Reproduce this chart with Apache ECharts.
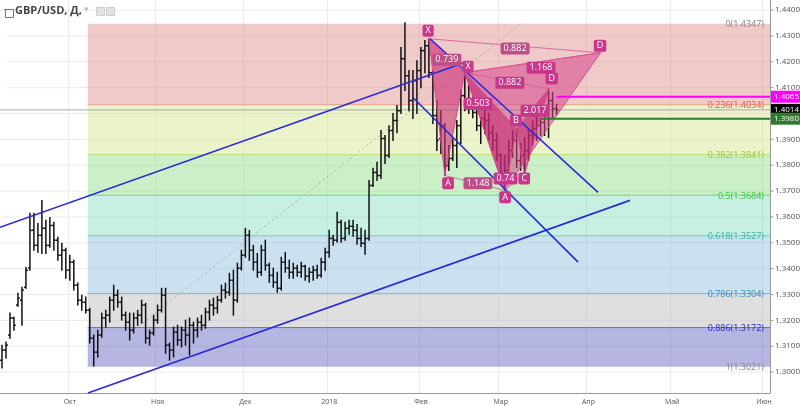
<!DOCTYPE html>
<html><head><meta charset="utf-8">
<script src="https://cdn.jsdelivr.net/npm/echarts@6/dist/echarts.min.js"></script>
<style>html,body{margin:0;padding:0;background:#fff}#c{width:800px;height:406px}</style>
</head><body><div id="c"></div>
<script>
// ---------- data ----------
const firstDay = [2017, 8, 7];           // 7 Sep 2017 (first daily bar on screen)
const dayCount = 193;                    // trading days on the axis (to early June 2018)
const monthKeys  = ['2017-10','2017-11','2017-12','2018-01','2018-02','2018-03','2018-04','2018-05','2018-06'];
const monthNames = ['Окт','Ноя','Дек','2018','Фев','Мар','Апр','Май','Июн'];
const yTicks = [1.30,1.31,1.32,1.33,1.34,1.35,1.36,1.37,1.38,1.39,1.40,1.41,1.42,1.43,1.44];

const opens = [
1.3046,1.3085,1.3143,1.3209,1.3259,1.3278,1.3328,1.3402,1.3548,1.3490,
1.3529,1.3556,1.3490,1.3567,1.3510,1.3452,1.3471,1.3394,1.3425,1.3336,
1.3278,1.3270,1.3239,1.3131,1.3077,1.3143,1.3209,1.3220,1.3278,1.3297,
1.3270,1.3220,1.3193,1.3162,1.3209,1.3220,1.3259,1.3131,1.3151,1.3201,
1.3239,1.3297,1.3104,1.3085,1.3154,1.3124,1.3162,1.3143,1.3181,1.3162,
1.3193,1.3181,1.3232,1.3259,1.3247,1.3278,1.3317,1.3309,1.3355,1.3278,
1.3402,1.3452,1.3529,1.3471,1.3425,1.3386,1.3471,1.3413,1.3374,1.3347,
1.3324,1.3425,1.3402,1.3386,1.3402,1.3386,1.3409,1.3371,1.3386,1.3394,
1.3374,1.3425,1.3463,1.3517,1.3510,1.3579,1.3517,1.3556,1.3564,1.3548,
1.3517,1.3498,1.3517,1.3722,1.3772,1.3760,1.3903,1.3838,1.3934,1.3973,
1.4011,1.4212,1.4146,1.4050,1.4127,1.4166,1.4243,1.4262,1.4158,1.3992,
1.3903,1.3953,1.3799,1.3826,1.3876,1.3953,1.4069,1.4050,1.4038,1.4004,
1.3953,1.3981,1.3973,1.3926,1.3896,1.3838,1.3760,1.3780,1.3857,1.3896,
1.3818,1.3838,1.3857,1.3915,1.3942,1.3953,1.3965,1.3992,1.4050,1.4019];
const highs = [
1.3104,1.3116,1.3228,1.3212,1.3305,1.3328,1.3405,1.3614,1.3614,1.3575,
1.3664,1.3587,1.3598,1.3579,1.3521,1.3498,1.3479,1.3452,1.3432,1.3344,
1.3297,1.3290,1.3247,1.3143,1.3162,1.3228,1.3239,1.3290,1.3336,1.3317,
1.3290,1.3232,1.3228,1.3228,1.3239,1.3278,1.3266,1.3162,1.3220,1.3259,
1.3324,1.3324,1.3112,1.3174,1.3181,1.3174,1.3201,1.3209,1.3193,1.3209,
1.3220,1.3247,1.3278,1.3286,1.3293,1.3336,1.3344,1.3382,1.3394,1.3421,
1.3471,1.3556,1.3548,1.3490,1.3459,1.3490,1.3510,1.3421,1.3402,1.3386,
1.3444,1.3463,1.3432,1.3421,1.3413,1.3425,1.3413,1.3402,1.3409,1.3413,
1.3440,1.3479,1.3548,1.3529,1.3618,1.3587,1.3579,1.3587,1.3587,1.3571,
1.3556,1.3548,1.3741,1.3788,1.3811,1.3934,1.3915,1.3953,1.4000,1.4031,
1.4255,1.4351,1.4166,1.4166,1.4204,1.4255,1.4282,1.4289,1.4166,1.4050,
1.4011,1.3961,1.3876,1.3907,1.3973,1.4089,1.4158,1.4108,1.4062,1.4038,
1.3984,1.4023,1.4000,1.3953,1.3923,1.3845,1.3838,1.3896,1.3934,1.3942,
1.3884,1.3907,1.3934,1.3973,1.3984,1.3981,1.4011,1.4096,1.4081,1.4035];
const lows = [
1.3016,1.3054,1.3131,1.3162,1.3255,1.3181,1.3324,1.3394,1.3471,1.3463,
1.3459,1.3459,1.3483,1.3471,1.3432,1.3394,1.3363,1.3355,1.3317,1.3259,
1.3239,1.3228,1.3112,1.3023,1.3058,1.3135,1.3174,1.3193,1.3239,1.3251,
1.3201,1.3162,1.3124,1.3151,1.3181,1.3189,1.3112,1.3104,1.3143,1.3189,
1.3232,1.3073,1.3046,1.3058,1.3104,1.3097,1.3104,1.3066,1.3112,1.3135,
1.3162,1.3170,1.3201,1.3220,1.3228,1.3270,1.3286,1.3297,1.3220,1.3270,
1.3394,1.3444,1.3432,1.3394,1.3367,1.3374,1.3394,1.3347,1.3328,1.3309,
1.3317,1.3386,1.3363,1.3363,1.3371,1.3367,1.3355,1.3347,1.3355,1.3363,
1.3367,1.3394,1.3444,1.3490,1.3502,1.3502,1.3510,1.3533,1.3525,1.3494,
1.3486,1.3456,1.3510,1.3718,1.3741,1.3749,1.3807,1.3830,1.3896,1.3926,
1.4000,1.4089,1.4011,1.3981,1.4000,1.4100,1.4158,1.4139,1.3961,1.3857,
1.3845,1.3760,1.3780,1.3818,1.3791,1.3884,1.4011,1.4000,1.3984,1.3934,
1.3884,1.3923,1.3896,1.3857,1.3818,1.3733,1.3703,1.3772,1.3830,1.3791,
1.3780,1.3764,1.3818,1.3876,1.3896,1.3915,1.3915,1.3907,1.3984,1.3996];
const closes = [
1.3085,1.3104,1.3209,1.3181,1.3286,1.3317,1.3394,1.3548,1.3490,1.3529,
1.3556,1.3490,1.3567,1.3510,1.3452,1.3471,1.3394,1.3425,1.3336,1.3278,
1.3270,1.3239,1.3131,1.3077,1.3143,1.3209,1.3220,1.3278,1.3297,1.3270,
1.3220,1.3193,1.3162,1.3209,1.3220,1.3259,1.3131,1.3151,1.3201,1.3239,
1.3297,1.3104,1.3085,1.3154,1.3124,1.3162,1.3143,1.3181,1.3162,1.3193,
1.3181,1.3232,1.3259,1.3247,1.3278,1.3317,1.3309,1.3355,1.3278,1.3402,
1.3452,1.3529,1.3471,1.3425,1.3386,1.3471,1.3413,1.3374,1.3347,1.3324,
1.3425,1.3402,1.3386,1.3402,1.3386,1.3409,1.3371,1.3386,1.3394,1.3374,
1.3425,1.3463,1.3517,1.3510,1.3579,1.3517,1.3556,1.3564,1.3548,1.3517,
1.3498,1.3517,1.3722,1.3772,1.3760,1.3903,1.3838,1.3934,1.3973,1.4011,
1.4212,1.4146,1.4050,1.4127,1.4166,1.4243,1.4262,1.4158,1.3992,1.3896,
1.3953,1.3799,1.3826,1.3876,1.3953,1.4069,1.4050,1.4038,1.4004,1.3953,
1.3981,1.3973,1.3926,1.3896,1.3838,1.3760,1.3780,1.3857,1.3896,1.3818,
1.3838,1.3857,1.3915,1.3942,1.3953,1.3965,1.3992,1.4050,1.4019,1.4014];

// Fibonacci retracement (from the Oct low to the Jan high)
const fibRatios = [0, 0.236, 0.382, 0.5, 0.618, 0.786, 0.886, 1];
const fibPrices = [1.4347, 1.4034, 1.3841, 1.3684, 1.3527, 1.3304, 1.3172, 1.3021];
const fibStartIdx = 21.5;
const fibEndIdx = 192.5;

// harmonic patterns: X, A, B, C, D  as [bar index, price]
const patternBig   = [[107,1.4289],[111,1.3760],[116,1.4158],[126,1.3703],[150,1.4235]];
const patternSmall = [[116,1.4158],[126,1.3703],[129,1.3942],[131,1.3764],[137,1.4096]];
// tags: text, bar index, price, style (0 = point, 1 = ratio)
const patternTags = [
  ['X',106.8,1.4320,0],['A',111.8,1.3730,0],['X',116.8,1.4181,0],['A',126.1,1.3676,0],
  ['B',128.8,1.3973,0],['0.74',126.2,1.3749,0],['C',130.9,1.3749,0],['D',137.8,1.4135,0],['D',149.9,1.4262,0],
  ['0.739',111.5,1.4208,1],['0.882',128.6,1.4251,1],['1.168',135.1,1.4177,0],['0.882',127.3,1.4119,0],
  ['0.503',119.3,1.4038,0],['2.017',133.6,1.4011,0],['1.148',119.3,1.3730,1]];

// trend lines [idx1, p1, idx2, p2]
const channelLines = [
  [-0.5, 1.3560, 116, 1.4197],
  [21.55, 1.2919, 157.4, 1.3664],
  [107.3, 1.4289, 149.4, 1.3695],
  [103, 1.4062, 144.4, 1.3425]];
const fibDiagonal = [21.5, 1.3021, 130, 1.4347];

const currentPrice = 1.4014;
const levelMagenta = [139, 1.4065];
const levelGreen   = [135, 1.3980];
const priceTags = [[1.4065,'#f0f'],[1.4014,'#000'],[1.3980,'#2f7a2f']];

// ---------- build ----------
const days = [];
(function(){ const d = new Date(Date.UTC(firstDay[0], firstDay[1], firstDay[2]));
  while (days.length < dayCount) { const w = d.getUTCDay();
    if (w !== 0 && w !== 6) days.push(d.toISOString().slice(0,10));
    d.setUTCDate(d.getUTCDate() + 1); } })();
const isMonthStart = (idx) => idx > 0 && days[idx].slice(0,7) !== days[idx-1].slice(0,7);
const monthName = (v) => { const k = monthKeys.indexOf(String(v).slice(0,7)); return k >= 0 ? monthNames[k] : ''; };
const X_MIN = -0.5, X_MAX = dayCount - 0.5;

const FONT = '"Open Sans", "DejaVu Sans", sans-serif';
const zoneColors = ['rgba(222,135,135,0.45)','rgba(210,228,140,0.45)','rgba(140,222,130,0.45)',
                    'rgba(133,222,190,0.45)','rgba(140,188,222,0.45)','rgba(185,185,185,0.45)','rgba(80,80,185,0.42)'];
const lineColors = [null,'#eaa090','#c8dc80','#70d870','#70d0b8','#80bce8','#6a6ad8',null];
const fibTextColors = ['#8a8a8a','#e05a5a','#9cc63c','#3cc43c','#35b3a0','#2f8fd0','#2c2cb8','#8a8a8a'];
const tagColors = ['#c8378a','#bb4f86'];

function seg(d){ return { type:'line', xAxisIndex:0, yAxisIndex:0, data:[[d[0],d[1]],[d[2],d[3]]],
  symbol:'none', silent:true, animation:false }; }

const series = [];
// horizontal grid lines
series.push({ type:'custom', z:1, silent:true, animation:false, data: yTicks.map(v=>[X_MIN, v]),
  renderItem:(p, api)=>{ const a = api.coord([X_MIN, api.value(1)]), b = api.coord([X_MAX, api.value(1)]);
    return {type:'line', shape:{x1:a[0],y1:a[1],x2:b[0],y2:b[1]}, style:{stroke:'#ececec', lineWidth:1}}; } });
// right price axis line + ticks
series.push({ type:'custom', z:9, silent:true, animation:false, clip:false, data: yTicks.map(v=>[X_MAX, v]),
  renderItem:(p, api)=>{ const c = api.coord([X_MAX, api.value(1)]); const ch = [
      {type:'line', shape:{x1:c[0]+0.5,y1:c[1],x2:c[0]+3.5,y2:c[1]}, style:{stroke:'#9a9a9a', lineWidth:1}}];
    if (p.dataIndex === 0) { const t = api.coord([X_MAX, 1.4439]), b = api.coord([X_MAX, 1.2919]);
      ch.push({type:'line', shape:{x1:c[0]+0.5,y1:t[1],x2:c[0]+0.5,y2:b[1]}, style:{stroke:'#9a9a9a', lineWidth:1}}); }
    return {type:'group', children:ch}; } });
// fib zones + lines + labels
series.push({ type:'custom', z:2, silent:true, animation:false, clip:false,
  data: fibPrices.map((pr,i)=>[fibStartIdx, pr, i]),
  renderItem:(p, api)=>{ const i = api.value(2); const ch = [];
    const a = api.coord([fibStartIdx, fibPrices[i]]), e = api.coord([fibEndIdx, fibPrices[i]]);
    if (i < fibPrices.length-1) { const b = api.coord([fibEndIdx, fibPrices[i+1]]);
      ch.push({type:'rect', shape:{x:a[0], y:a[1], width:b[0]-a[0], height:b[1]-a[1]}, style:{fill:zoneColors[i]}}); }
    if (lineColors[i]) ch.push({type:'line', shape:{x1:a[0],y1:a[1],x2:e[0],y2:e[1]}, style:{stroke:lineColors[i], lineWidth:1}});
    ch.push({type:'text', z2:5, style:{text: fibRatios[i] + '(' + fibPrices[i].toFixed(4) + ')', x:e[0]-6, y:a[1]+1,
      align:'right', verticalAlign:'middle', fill:fibTextColors[i], font:'9px ' + FONT}});
    return {type:'group', children:ch}; } });
// fib diagonal
series.push(Object.assign(seg(fibDiagonal), {z:3, lineStyle:{color:'#b0b0b0', width:1, type:[2,3]}}));
// current price line
series.push(Object.assign(seg([X_MIN,currentPrice,X_MAX,currentPrice]), {z:3, lineStyle:{color:'#a8a8a8', width:1}}));
// OHLC bars
series.push({ type:'custom', z:4, silent:true, animation:false,
  data: opens.map((o,i)=>[i, o, highs[i], lows[i], closes[i]]),
  renderItem:(p, api)=>{ const i = api.value(0);
    const o = api.coord([i, api.value(1)]), h = api.coord([i, api.value(2)]), l = api.coord([i, api.value(3)]), c = api.coord([i, api.value(4)]);
    const st = {stroke:'#111', lineWidth:1.5}; const w = 1.9;
    return {type:'group', children:[
      {type:'line', shape:{x1:h[0],y1:h[1]-0.5,x2:l[0],y2:l[1]+0.5}, style:st},
      {type:'line', shape:{x1:o[0]-w,y1:o[1],x2:o[0],y2:o[1]}, style:st},
      {type:'line', shape:{x1:c[0],y1:c[1],x2:c[0]+w,y2:c[1]}, style:st}]}; } });
// pattern triangles
const tris = [
  [patternBig[0],patternBig[1],patternBig[2],0],[patternBig[2],patternBig[3],patternBig[4],1],
  [patternSmall[0],patternSmall[1],patternSmall[2],2],[patternSmall[2],patternSmall[3],patternSmall[4],2]];
const triFill = ['rgba(205,45,120,0.62)','rgba(215,70,140,0.55)','rgba(190,30,110,0.55)'];
series.push({ type:'custom', z:5, silent:true, animation:false,
  data: tris.map(t=>[t[0][0],t[0][1],t[1][0],t[1][1],t[2][0],t[2][1],t[3]]),
  renderItem:(p, api)=>{ const pts = [0,1,2].map(k=>api.coord([api.value(2*k), api.value(2*k+1)]));
    return {type:'polygon', shape:{points:pts}, style:{fill:triFill[api.value(6)], stroke:'rgba(215,70,140,0.9)', lineWidth:1}}; } });
// pattern thin ratio lines
[patternBig, patternSmall].forEach(pt=>{
  [[0,2],[1,3],[2,4],[0,4]].forEach(pr=>{
    series.push(Object.assign(seg([pt[pr[0]][0],pt[pr[0]][1],pt[pr[1]][0],pt[pr[1]][1]]),
      {z:6, lineStyle:{color:'rgba(215,90,150,0.85)', width:1}}));
  });
});
// blue lines
channelLines.forEach(l=>series.push(Object.assign(seg(l), {z:7, lineStyle:{color:'#2a2ad8', width:1.6}})));
// horizontal levels
series.push(Object.assign(seg([levelMagenta[0],levelMagenta[1],X_MAX,levelMagenta[1]]), {z:7, lineStyle:{color:'#ff00ff', width:2}}));
series.push(Object.assign(seg([levelGreen[0],levelGreen[1],X_MAX,levelGreen[1]]), {z:7, lineStyle:{color:'#2f7a2f', width:2}}));
// pattern tags
series.push({ type:'custom', z:8, silent:true, animation:false, clip:false,
  data: patternTags.map((t,i)=>[t[1], t[2], i]),
  renderItem:(p, api)=>{ const c = api.coord([api.value(0), api.value(1)]); const t = patternTags[api.value(2)];
    return {type:'text', style:{text:t[0], x:c[0], y:c[1], align:'center', verticalAlign:'middle',
      fill:'#fff', font:'9px ' + FONT, backgroundColor:tagColors[t[3]], padding:[2,3,1,3], borderRadius:2}}; } });
// right price tags
series.push({ type:'custom', z:10, silent:true, animation:false, clip:false,
  data: priceTags.map((t,i)=>[X_MAX, t[0], i]),
  renderItem:(p, api)=>{ const c = api.coord([X_MAX, api.value(1)]); const t = priceTags[api.value(2)];
    return {type:'group', children:[
      {type:'rect', shape:{x:c[0]+1, y:c[1]-6, width:29, height:12}, style:{fill:t[1]}},
      {type:'text', style:{text:t[0].toFixed(4), x:c[0]+4, y:c[1], align:'left', verticalAlign:'middle', fill:'#fff', font:'8px ' + FONT}}]}; } });

const option = {
  animation:false,
  backgroundColor:'#fff',
  grid:{left:0, right:30, top:0, bottom:13, outerBoundsMode:'none', containLabel:false},
  xAxis:[
    {type:'value', min:X_MIN, max:X_MAX, show:false, axisLine:{show:false, onZero:false}},
    {type:'category', data:days, boundaryGap:true, position:'bottom',
      axisLine:{onZero:false, lineStyle:{color:'#9a9a9a'}},
      axisTick:{alignWithLabel:true, interval:isMonthStart, length:3, lineStyle:{color:'#9a9a9a'}},
      axisLabel:{interval:isMonthStart, formatter:monthName, fontSize:7, color:'#555', margin:5, fontFamily:FONT},
      splitLine:{show:true, interval:isMonthStart, lineStyle:{color:'#ececec'}}}
  ],
  yAxis:{type:'value', position:'right', min:1.2919, max:1.4439,
    axisLine:{show:false, onZero:false},
    axisTick:{show:false},
    axisLabel:{customValues:yTicks, formatter:v=>Number(v).toFixed(4), fontSize:8, color:'#555', margin:5, fontFamily:FONT},
    splitLine:{show:false}},
  graphic:[
    {type:'rect', left:1, top:28, z:100, shape:{width:7, height:78}, style:{fill:'#fff'}},
    {type:'rect', left:3, top:7, z:101, shape:{width:8, height:8}, style:{fill:'none', stroke:'#777', lineWidth:1}},
    {type:'text', left:4, top:4, z:101, style:{text:'-', fill:'#777', font:'bold 10px ' + FONT}},
    {type:'text', left:15, top:5, z:101, style:{text:'GBP/USD, Д,', fill:'#444', font:'bold 11px ' + FONT}},
    {type:'text', left:84, top:5, z:101, style:{text:'▾', fill:'#bbb', font:'9px ' + FONT}},
    {type:'rect', left:96, top:7, z:101, shape:{width:8, height:8}, style:{fill:'#e2e2e2', stroke:'#cfcfcf', lineWidth:1}},
    {type:'rect', left:106, top:7, z:101, shape:{width:8, height:8}, style:{fill:'#e2e2e2', stroke:'#cfcfcf', lineWidth:1}}
  ],
  series: series
};
const chart = echarts.init(document.getElementById('c'), null, {renderer:'canvas'});
chart.setOption(option);
</script></body></html>
